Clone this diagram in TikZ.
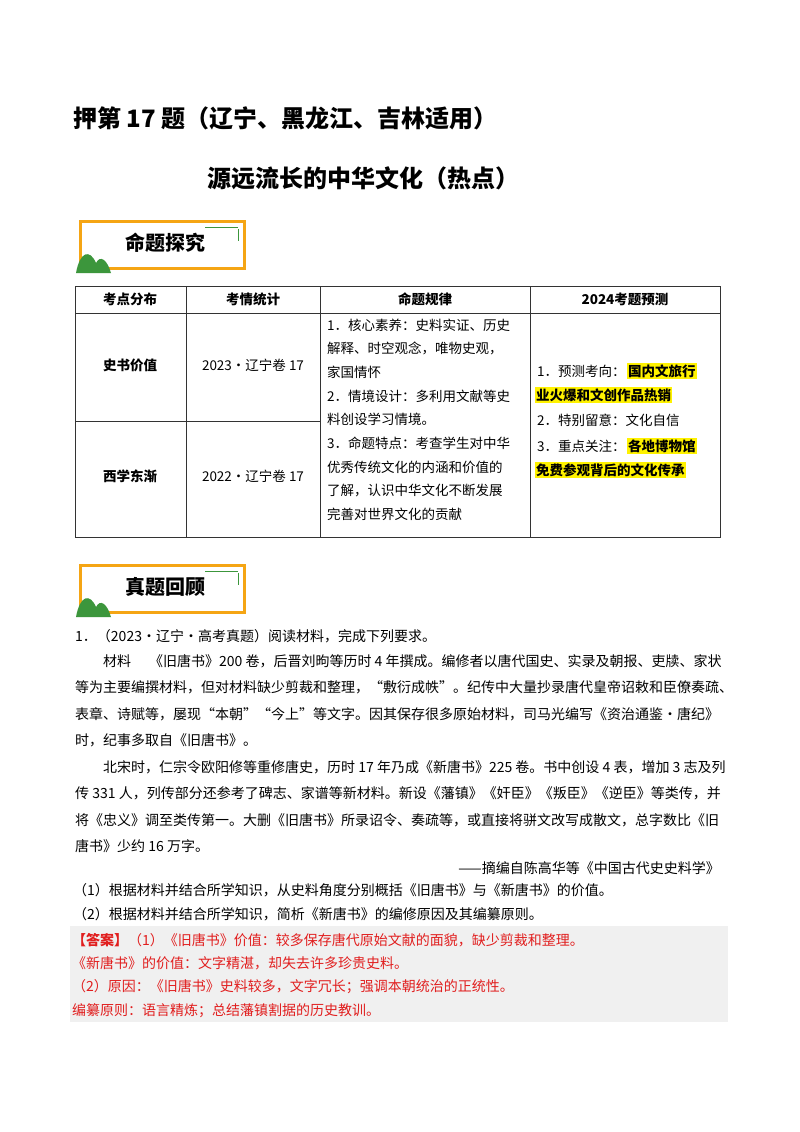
\documentclass[tikz,border=0pt]{standalone}
\usepackage{fontspec}
\setmainfont{Noto Sans CJK SC}
\definecolor{orng}{RGB}{245,165,20}
\definecolor{grn}{RGB}{60,150,60}
\definecolor{ansred}{RGB}{225,30,30}
\definecolor{ansbg}{RGB}{240,240,240}
\begin{document}
\begin{tikzpicture}[x=1pt,y=-1pt,
  txt/.style={anchor=west,inner sep=0pt,font=\fontsize{14}{16}\selectfont},
  ctxt/.style={inner sep=0pt,font=\fontsize{13.5}{16}\selectfont},
  hl/.style={anchor=west,inner sep=1pt,fill=yellow,font=\fontsize{13.5}{16}\selectfont\bfseries},
  red/.style={anchor=west,inner sep=0pt,text=ansred,font=\fontsize{14}{16}\selectfont},
  tbl/.style={draw=black!80,line width=0.8pt}]
\useasboundingbox (0,0) rectangle (800,1132);
\fill[white] (0,0) rectangle (800,1132);
% titles
\node[anchor=west,inner sep=0pt,font=\fontsize{24}{28}\selectfont\bfseries] (t1) at (73,118) {押第 17 题（辽宁、黑龙江、吉林适用）};
\node[anchor=west,inner sep=0pt,font=\fontsize{24}{28}\selectfont\bfseries] (t2) at (207,178) {源远流长的中华文化（热点）};
% badges
\foreach \y/\lab/\nm in {221/命题探究/b1,565/真题回顾/b2}{
  \draw[orng,line width=3pt] (80,\y) rectangle (244,\y+47);
  \draw[grn,line width=1pt] (205,\y+6) -- (238,\y+6);
  \draw[grn,line width=1pt] (238,\y+8) -- (238,\y+20);
  \fill[grn] (76,\y+52) .. controls (80,\y+30) and (90,\y+28) .. (96,\y+42) .. controls (100,\y+34) and (107,\y+38) .. (111,\y+52) -- cycle;
  \node[inner sep=0pt,font=\fontsize{20}{22}\selectfont\bfseries] (\nm) at (165,\y+22) {\lab};
}
% table
\draw[tbl] (75,286) rectangle (720,537);
\draw[tbl] (75,313) -- (720,313);
\draw[tbl] (75,421) -- (320,421);
\foreach \x in {186,320,530} \draw[tbl] (\x,286) -- (\x,537);
\node[ctxt,font=\fontsize{13.5}{16}\selectfont\bfseries] (h1) at (130,299) {考点分布};
\node[ctxt,font=\fontsize{13.5}{16}\selectfont\bfseries] (h2) at (253,299) {考情统计};
\node[ctxt,font=\fontsize{13.5}{16}\selectfont\bfseries] (h3) at (425,299) {命题规律};
\node[ctxt,font=\fontsize{13.5}{16}\selectfont\bfseries] (h4) at (625,299) {2024考题预测};
\node[ctxt,font=\fontsize{13.5}{16}\selectfont\bfseries] (r1) at (130,365) {史书价值};
\node[ctxt] (r1b) at (253,365) {2023·辽宁卷 17};
\node[ctxt,font=\fontsize{13.5}{16}\selectfont\bfseries] (r2) at (130,476) {西学东渐};
\node[ctxt] (r2b) at (253,476) {2022·辽宁卷 17};
\foreach \t [count=\i from 0] in {1．核心素养：史料实证、历史,解释、时空观念，唯物史观，,家国情怀,2．情境设计：多利用文献等史,料创设学习情境。,3．命题特点：考查学生对中华,优秀传统文化的内涵和价值的,了解，认识中华文化不断发展,完善对世界文化的贡献}
  \node[ctxt,anchor=west] (c3l\i) at (327,325+23.7*\i) {\t};
\node[ctxt,anchor=west] (p1) at (537,371) {1．预测考向：};
\node[hl] (p1h) at ([xshift=1pt]p1.east) {国内文旅行};
\node[hl] (p1h2) at (535,395) {业火爆和文创作品热销};
\node[ctxt,anchor=west] (p2) at (537,420) {2．特别留意：文化自信};
\node[ctxt,anchor=west] (p3) at (537,446) {3．重点关注：};
\node[hl] (p3h) at ([xshift=1pt]p3.east) {各地博物馆};
\node[hl] (p3h2) at (535,470) {免费参观背后的文化传承};
% question
\node[txt] (q0) at (75,636) {1．（2023·辽宁·高考真题）阅读材料，完成下列要求。};
\node[txt] (m1) at (103,661) {材料\quad\;《旧唐书》200 卷，后晋刘昫等历时 4 年撰成。编修者以唐代国史、实录及朝报、吏牍、家状};
\node[txt] (m2) at (75,687) {等为主要编撰材料，但对材料缺少剪裁和整理，“敷衍成帙”。纪传中大量抄录唐代皇帝诏敕和臣僚奏疏、};
\node[txt] (m3) at (75,714) {表章、诗赋等，屡现“本朝”“今上”等文字。因其保存很多原始材料，司马光编写《资治通鉴·唐纪》};
\node[txt] (m4) at (75,740) {时，纪事多取自《旧唐书》。};
\node[txt] (m5) at (103,767) {北宋时，仁宗令欧阳修等重修唐史，历时 17 年乃成《新唐书》225 卷。书中创设 4 表，增加 3 志及列};
\node[txt] (m6) at (75,793) {传 331 人，列传部分还参考了碑志、家谱等新材料。新设《藩镇》《奸臣》《叛臣》《逆臣》等类传，并};
\node[txt] (m7) at (75,820) {将《忠义》调至类传第一。大删《旧唐书》所录诏令、奏疏等，或直接将骈文改写成散文，总字数比《旧};
\node[txt] (m8) at (75,846) {唐书》少约 16 万字。};
\node[txt,anchor=east] (src) at (720,868) {——摘编自陈高华等《中国古代史史料学》};
\node[txt] (q1) at (73,890) {（1）根据材料并结合所学知识，从史料角度分别概括《旧唐书》与《新唐书》的价值。};
\node[txt] (q2) at (73,914) {（2）根据材料并结合所学知识，简析《新唐书》的编修原因及其编纂原则。};
\fill[ansbg] (70,926) rectangle (728,1022);
\node[red] (a1) at (72,940) {\textbf{【答案】}（1）《旧唐书》价值：较多保存唐代原始文献的面貌，缺少剪裁和整理。};
\node[red] (a2) at (72,963) {《新唐书》的价值：文字精湛，却失去许多珍贵史料。};
\node[red] (a3) at (72,987) {（2）原因：《旧唐书》史料较多，文字冗长；强调本朝统治的正统性。};
\node[red] (a4) at (72,1011) {编纂原则：语言精炼；总结藩镇割据的历史教训。};
\end{tikzpicture}
\end{document}
